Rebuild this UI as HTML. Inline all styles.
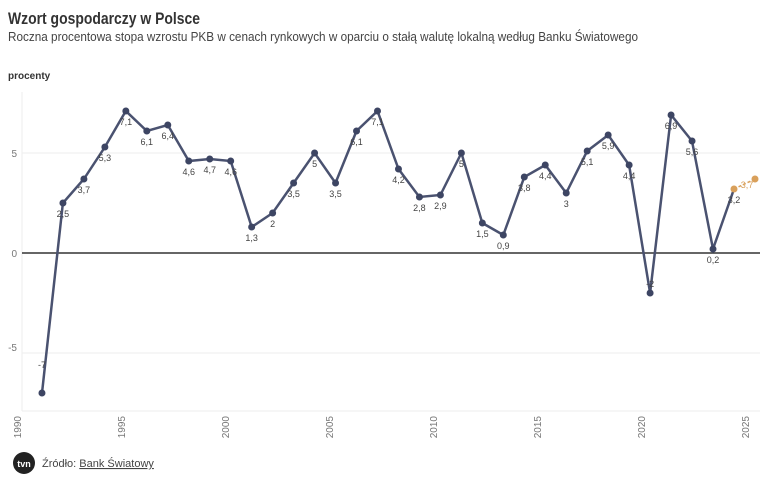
<!DOCTYPE html>
<html><head><meta charset="utf-8"><style>
body{margin:0;background:#fff;font-family:"Liberation Sans",sans-serif;}
</style></head><body>
<svg width="768" height="489" viewBox="0 0 768 489" xmlns="http://www.w3.org/2000/svg" font-family="Liberation Sans, sans-serif">
<text x="8" y="24" font-size="17" font-weight="bold" fill="#333" textLength="192" lengthAdjust="spacingAndGlyphs">Wzort gospodarczy w Polsce</text>
<text x="8" y="41" font-size="12.5" fill="#444" textLength="630" lengthAdjust="spacingAndGlyphs">Roczna procentowa stopa wzrostu PKB w cenach rynkowych w oparciu o stałą walutę lokalną według Banku Światowego</text>
<text x="8" y="79" font-size="10" font-weight="bold" fill="#333">procenty</text>
<g stroke="#eee" stroke-width="1">
<line x1="22" y1="153" x2="760" y2="153"/><line x1="22" y1="353" x2="760" y2="353"/>
<line x1="22" y1="411" x2="760" y2="411"/><line x1="22" y1="92" x2="22" y2="411"/>
</g>
<line x1="22" y1="253" x2="760" y2="253" stroke="#333" stroke-width="1.5"/>
<g font-size="10" fill="#777" text-anchor="end">
<text x="17" y="157">5</text><text x="17" y="257">0</text><text x="17" y="351">-5</text>
</g>
<g font-size="10" fill="#777" text-anchor="end">
<text transform="translate(21,416) rotate(-90)">1990</text>
<text transform="translate(125,416) rotate(-90)">1995</text>
<text transform="translate(229,416) rotate(-90)">2000</text>
<text transform="translate(333,416) rotate(-90)">2005</text>
<text transform="translate(437,416) rotate(-90)">2010</text>
<text transform="translate(541,416) rotate(-90)">2015</text>
<text transform="translate(645,416) rotate(-90)">2020</text>
<text transform="translate(749,416) rotate(-90)">2025</text>
</g>
<g id="s"></g>
<line x1="734" y1="189" x2="755" y2="179" stroke="#d9a05b" stroke-width="1.5" stroke-dasharray="3,2"/>
<circle cx="734" cy="189" r="3.5" fill="#d9a05b"/><circle cx="755" cy="179" r="3.5" fill="#d9a05b"/>
<text x="747" y="188" font-size="9" fill="#d9a05b" text-anchor="middle">3,7</text>
<circle cx="24" cy="463" r="11" fill="#222"/>
<text x="24" y="467" font-size="9" font-weight="bold" fill="#fff" text-anchor="middle">tvn</text>
<text x="42" y="467" font-size="11" fill="#444">Źródło: <tspan text-decoration="underline">Bank Światowy</tspan></text>
</svg>
<script>
var d=[[1991,-7],[1992,2.5],[1993,3.7],[1994,5.3],[1995,7.1],[1996,6.1],[1997,6.4],[1998,4.6],[1999,4.7],[2000,4.6],[2001,1.3],[2002,2],[2003,3.5],[2004,5],[2005,3.5],[2006,6.1],[2007,7.1],[2008,4.2],[2009,2.8],[2010,2.9],[2011,5],[2012,1.5],[2013,0.9],[2014,3.8],[2015,4.4],[2016,3],[2017,5.1],[2018,5.9],[2019,4.4],[2020,-2],[2021,6.9],[2022,5.6],[2023,0.2],[2024,3.2]];
var g=document.getElementById('s'),ns='http://www.w3.org/2000/svg',pts=[];
function X(y){return 21+20.97*(y-1990);}function Y(v){return 253-20*v;}
d.forEach(function(p){pts.push(X(p[0]).toFixed(1)+','+Y(p[1]).toFixed(1));});
var pl=document.createElementNS(ns,'polyline');pl.setAttribute('points',pts.join(' '));pl.setAttribute('fill','none');pl.setAttribute('stroke','#4a5270');pl.setAttribute('stroke-width','2.5');g.appendChild(pl);
d.forEach(function(p,i){if(i<d.length-1){var c=document.createElementNS(ns,'circle');c.setAttribute('cx',X(p[0]));c.setAttribute('cy',Y(p[1]));c.setAttribute('r',3.5);c.setAttribute('fill','#3d4563');g.appendChild(c);}
var t=document.createElementNS(ns,'text');t.setAttribute('x',X(p[0]));var yy=Y(p[1])+14;if(p[1]==-7)yy=Y(p[1])-25;if(p[1]==-2)yy=Y(p[1])-6;t.setAttribute('y',yy);t.setAttribute('font-size','9');t.setAttribute('fill','#444');t.setAttribute('text-anchor','middle');t.textContent=String(p[1]).replace('.',',');g.appendChild(t);});
</script>
</body></html>
